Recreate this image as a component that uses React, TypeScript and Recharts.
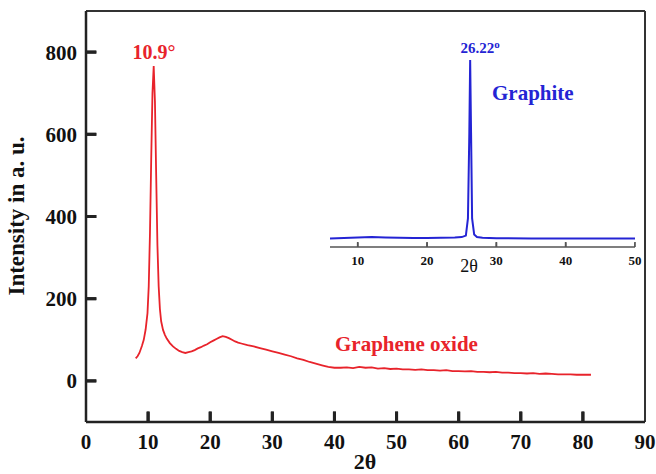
import React from 'react';
import { ComposedChart, Line, XAxis, YAxis, ReferenceLine } from 'recharts';

const GO_X = [8.0, 8.3, 8.6, 9.0, 9.3, 9.6, 9.9, 10.1, 10.3, 10.5, 10.7, 10.9, 11.1, 11.3, 11.5, 11.7, 11.9, 12.1, 12.4, 12.7, 13.0, 13.5, 14.0, 14.5, 15.0, 15.5, 16.0, 16.5, 17.0, 17.5, 18.0, 18.5, 19.0, 19.5, 20.0, 20.5, 21.0, 21.5, 22.0, 22.5, 23.0, 23.5, 24.0, 24.5, 25.0, 26.0, 27.0, 28.0, 29.0, 30.0, 31.0, 32.0, 33.0, 34.0, 35.0, 36.0, 37.0, 38.0, 39.0, 40.0, 41, 42, 43, 44, 45, 46, 47, 48, 49, 50, 51, 52, 53, 54, 55, 56, 57, 58, 59, 60, 61, 62, 63, 64, 65, 66, 67, 68, 69, 70, 71, 72, 73, 74, 75, 76, 77, 78, 79, 80, 81.3];
const GO_Y = [55, 60, 68, 85, 100, 125, 165, 230, 360, 540, 700, 766, 680, 500, 330, 230, 175, 145, 124, 112, 103, 92, 84, 78, 73, 70, 68, 70, 72, 75, 79, 82, 86, 89, 94, 98, 102, 106, 109, 107, 104, 100, 96, 93, 91, 87, 84, 80, 76, 72, 68, 64, 60, 55, 51, 46, 42, 38, 34, 32, 32, 33, 31, 34, 32, 33, 30, 31, 29, 30, 28, 28, 27, 28, 26, 26, 25, 26, 24, 24, 23, 24, 22, 22, 21, 22, 20, 20, 19, 19, 18, 19, 17, 18, 17, 16, 16, 16, 15, 15, 15];

const GR_X = [6, 8, 10, 12, 14, 16, 18, 20, 22, 24, 25, 25.6, 25.9, 26.1, 26.22, 26.35, 26.5, 26.8, 27.2, 28, 30, 35, 40, 45, 50];
const GR_Y = [45, 47, 50, 52, 50, 48, 47, 47, 48, 50, 52, 60, 150, 600, 982, 600, 150, 65, 52, 48, 46, 45, 45, 44, 44];

const MAIN_X_TICKS = [0, 10, 20, 30, 40, 50, 60, 70, 80, 90];
const MAIN_Y_TICKS = [0, 200, 400, 600, 800];
const INSET_X_TICKS = [10, 20, 30, 40, 50];

const X_TICK_LEN = 26;
const Y_TICK_LEN = 1.7;
const INSET_TICK_LEN = 24;

const goData = GO_X.map((x, i) => ({ x, y: GO_Y[i] }));
const grData = GR_X.map((x, i) => ({ x, y: GR_Y[i] }));
const xTickSegs = MAIN_X_TICKS.filter((t) => t > 0 && t < 90).map((t) => [{ x: t, y: -100 }, { x: t, y: -100 + X_TICK_LEN }]);
const yTickSegs = MAIN_Y_TICKS.map((t) => [{ x: 0, y: t }, { x: Y_TICK_LEN, y: t }]);
const insetTickSegs = INSET_X_TICKS.map((t) => [{ x: t, y: 0 }, { x: t, y: INSET_TICK_LEN }]);

const FONT = '"Liberation Serif", "Times New Roman", serif';
const RED = '#e8232b';
const BLUE = '#2424d4';
const AXIS = '#222';

function XTick(props: any) {
  const { x, y, payload, margin, len, fontSize, color, w, skipEdges } = props;
  const v = payload && payload.value;
  const axisY = Number(y) - margin;
  const showLine = !(skipEdges && (v === 0 || v === 90));
  return (
    <g>
      {showLine && <path d={`M${x},${axisY}L${x},${axisY - len}`} stroke={color} strokeWidth={w} fill="none" />}
      <text x={x} y={y} dy="0.71em" textAnchor="middle" fill="#111" fontSize={fontSize} fontWeight="bold" fontFamily={FONT}>
        {v}
      </text>
    </g>
  );
}

function YTick(props: any) {
  const { x, y, payload } = props;
  const axisX = Number(x) + 9;
  return (
    <g>
      <path d={`M${axisX},${y}L${axisX + 10},${y}`} stroke={AXIS} strokeWidth={3} fill="none" />
      <text x={x} y={y} dy="0.355em" textAnchor="end" fill="#111" fontSize={21} fontWeight="bold" fontFamily={FONT}>
        {payload && payload.value}
      </text>
    </g>
  );
}

export default function App() {
  return (
    <div style={{ position: 'absolute', left: 0, top: 0, width: 656, height: 474, background: '#fff', fontFamily: FONT }}>
      <div style={{ position: 'absolute', left: 0, top: 0 }}>
        <ComposedChart width={656} height={474} margin={{ top: 11, right: 11, left: 26, bottom: 22 }}>
          <XAxis
            dataKey="x"
            type="number"
            domain={[0, 90]}
            ticks={MAIN_X_TICKS}
            height={30}
            interval={0}
            allowDataOverflow
            axisLine={{ stroke: AXIS, strokeWidth: 2.5 }}
            tickLine={false}
            tickSize={0}
            tickMargin={12}
            tick={(p: any) => <XTick {...p} margin={12} len={10} fontSize={21} color={AXIS} w={3} skipEdges />}
          />
          <YAxis
            dataKey="y"
            type="number"
            domain={[-100, 900]}
            ticks={MAIN_Y_TICKS}
            width={60}
            interval={0}
            allowDataOverflow
            axisLine={{ stroke: AXIS, strokeWidth: 2.5 }}
            tickLine={false}
            tickSize={0}
            tickMargin={9}
            tick={(p: any) => <YTick {...p} />}
          />
          <ReferenceLine y={900} stroke="#333" strokeWidth={2} />
          <ReferenceLine x={90} stroke="#333" strokeWidth={2} />
          {xTickSegs.map((seg, i) => (
            <Line key={'xt' + i} data={seg} dataKey="y" type="linear" stroke={AXIS} strokeWidth={3} dot={false} activeDot={false} isAnimationActive={false} />
          ))}
          {yTickSegs.map((seg, i) => (
            <Line key={'yt' + i} data={seg} dataKey="y" type="linear" stroke={AXIS} strokeWidth={3} dot={false} activeDot={false} isAnimationActive={false} />
          ))}
          <Line data={goData} dataKey="y" type="linear" stroke={RED} strokeWidth={1.8} dot={false} isAnimationActive={false} />
        </ComposedChart>
      </div>
      <div style={{ position: 'absolute', left: 0, top: 0 }}>
        <ComposedChart width={656} height={474} margin={{ top: 47, right: 21, left: 330, bottom: 197 }}>
          <XAxis
            dataKey="x"
            type="number"
            domain={[6, 50]}
            ticks={INSET_X_TICKS}
            height={30}
            interval={0}
            allowDataOverflow
            axisLine={{ stroke: '#555', strokeWidth: 1.5 }}
            tickLine={false}
            tickSize={0}
            tickMargin={9}
            tick={(p: any) => <XTick {...p} margin={9} len={5} fontSize={13} color="#555" w={1.6} skipEdges={false} />}
          />
          <YAxis hide dataKey="y" type="number" domain={[0, 1050]} width={0} allowDataOverflow />
          {insetTickSegs.map((seg, i) => (
            <Line key={'it' + i} data={seg} dataKey="y" type="linear" stroke="#555" strokeWidth={1.6} dot={false} activeDot={false} isAnimationActive={false} />
          ))}
          <Line data={grData} dataKey="y" type="linear" stroke={BLUE} strokeWidth={2} dot={false} isAnimationActive={false} />
        </ComposedChart>
      </div>
      <svg width={656} height={474} style={{ position: 'absolute', left: 0, top: 0, pointerEvents: 'none' }}>
        <text x={154} y={59} textAnchor="middle" fill={RED} fontSize={20} fontWeight="bold" fontFamily={FONT}>
          10.9°
        </text>
        <text x={480} y={53} textAnchor="middle" fill={BLUE} fontSize={15} fontWeight="bold" fontFamily={FONT}>
          26.22<tspan fontSize={11} dy={-5}>o</tspan>
        </text>
        <text x={492} y={100} fill={BLUE} fontSize={21} fontWeight="bold" fontFamily={FONT}>
          Graphite
        </text>
        <text x={335} y={351} fill={RED} fontSize={21} fontWeight="bold" fontFamily={FONT}>
          Graphene oxide
        </text>
        <text x={469} y={272} textAnchor="middle" fill="#111" fontSize={18} fontFamily={FONT}>
          2θ
        </text>
        <text x={365} y={469} textAnchor="middle" fill="#111" fontSize={22} fontWeight="bold" fontFamily={FONT}>
          2θ
        </text>
        <text x={24} y={216} textAnchor="middle" fill="#111" fontSize={23} fontWeight="bold" fontFamily={FONT} transform="rotate(-90 24 216)">
          Intensity in a. u.
        </text>
      </svg>
    </div>
  );
}
